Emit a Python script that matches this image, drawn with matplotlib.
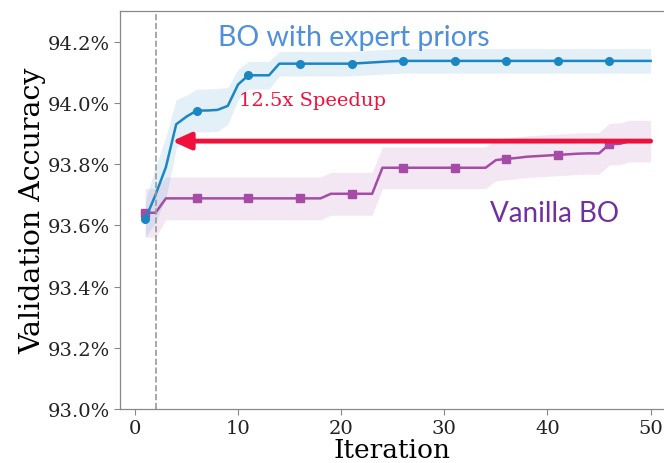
import numpy as np
import matplotlib.pyplot as plt
from matplotlib.ticker import FuncFormatter

# best-so-far validation accuracy (%) per iteration
iters = np.arange(1, 51)
expert_mean = [93.62, 93.70, 93.79, 93.93, 93.955, 93.975, 93.975, 93.977, 93.99, 94.06,
               94.09, 94.09, 94.09, 94.128, 94.128, 94.128, 94.128, 94.128, 94.128, 94.128,
               94.128, 94.13, 94.132, 94.134, 94.136, 94.137, 94.137, 94.137, 94.137, 94.137,
               94.137, 94.137, 94.137, 94.137, 94.137, 94.137, 94.137, 94.137, 94.137, 94.137,
               94.137, 94.137, 94.137, 94.137, 94.137, 94.137, 94.137, 94.137, 94.137, 94.137]
expert_std = [0.06, 0.09, 0.10, 0.08, 0.07, 0.07, 0.07, 0.07, 0.06, 0.05,
              0.045, 0.045, 0.045, 0.04, 0.04, 0.04, 0.04, 0.04, 0.04, 0.04,
              0.04, 0.04, 0.04, 0.04, 0.04, 0.04, 0.04, 0.04, 0.04, 0.04,
              0.04, 0.04, 0.04, 0.04, 0.04, 0.04, 0.04, 0.04, 0.04, 0.04,
              0.04, 0.04, 0.04, 0.04, 0.04, 0.04, 0.04, 0.04, 0.04, 0.04]
vanilla_mean = [93.641, 93.641, 93.688, 93.688, 93.688, 93.688, 93.688, 93.688, 93.688, 93.688,
                93.688, 93.688, 93.688, 93.688, 93.688, 93.688, 93.688, 93.688, 93.703, 93.703,
                93.703, 93.703, 93.703, 93.788, 93.788, 93.788, 93.788, 93.788, 93.788, 93.788,
                93.788, 93.788, 93.788, 93.788, 93.813, 93.817, 93.82, 93.824, 93.826, 93.828,
                93.83, 93.832, 93.834, 93.835, 93.835, 93.865, 93.866, 93.875, 93.875, 93.875]
vanilla_std = [0.08, 0.08, 0.07, 0.07, 0.07, 0.07, 0.07, 0.07, 0.07, 0.07,
               0.07, 0.07, 0.07, 0.07, 0.07, 0.07, 0.07, 0.07, 0.07, 0.07,
               0.07, 0.07, 0.07, 0.068, 0.068, 0.068, 0.068, 0.068, 0.068, 0.068,
               0.068, 0.068, 0.068, 0.068, 0.068, 0.068, 0.068, 0.068, 0.068, 0.068,
               0.068, 0.068, 0.068, 0.068, 0.068, 0.068, 0.068, 0.068, 0.068, 0.068]
marker_idx = list(range(0, 50, 5))

expert_mean = np.array(expert_mean)
expert_std = np.array(expert_std)
vanilla_mean = np.array(vanilla_mean)
vanilla_std = np.array(vanilla_std)

blue = '#1a86c4'
purple = '#a64ca6'
red = '#f0103c'

plt.rcParams['font.family'] = 'DejaVu Serif'
fig = plt.figure(figsize=(6.64, 4.64), dpi=100)
ax = fig.add_axes([120/664, 54/464, 544/664, 398/464])

ax.fill_between(iters, vanilla_mean - vanilla_std, vanilla_mean + vanilla_std,
                color=purple, alpha=0.13, lw=0)
ax.fill_between(iters, expert_mean - expert_std, expert_mean + expert_std,
                color=blue, alpha=0.12, lw=0)
ax.plot(iters, vanilla_mean, color=purple, lw=1.8, marker='s', ms=5.5, markevery=marker_idx)
ax.plot(iters, expert_mean, color=blue, lw=1.8, marker='o', ms=5.5, markevery=marker_idx)

ax.axvline(2, color='#999999', ls='--', lw=1.2)

# speedup arrow from the end of vanilla BO back to where expert priors reach it
ax.annotate('', xy=(3.6, vanilla_mean[-1]), xytext=(50, vanilla_mean[-1]),
            arrowprops=dict(arrowstyle='-|>,head_length=1.1,head_width=0.5',
                            color=red, lw=3.5, shrinkA=0, shrinkB=0))
ax.text(10.1, 94.01, '12.5x Speedup', color=red, fontsize=14, va='center')

ax.text(8.1, 94.215, 'BO with expert priors', color='#4f8fdc', fontsize=20.5,
        family='Lato', va='center')
ax.text(34.4, 93.64, 'Vanilla BO', color='#7030a0', fontsize=20,
        family='Lato', va='center')

ax.set_xlim(-1.45, 51.3)
ax.set_ylim(93.0, 94.30)
ax.set_xticks([0, 10, 20, 30, 40, 50])
ax.set_yticks([93.0, 93.2, 93.4, 93.6, 93.8, 94.0, 94.2])
ax.yaxis.set_major_formatter(FuncFormatter(lambda v, p: f'{v:.1f}%'))
ax.tick_params(labelsize=14, color='#888888', length=4, width=0.8, labelcolor='#222222')
ax.set_xlabel('Iteration', fontsize=19, labelpad=0)
ax.set_ylabel('Validation Accuracy', fontsize=20.5, labelpad=1)
for s in ['left', 'bottom', 'top']:
    ax.spines[s].set_color('#888888')
    ax.spines[s].set_linewidth(0.9)
ax.spines['right'].set_visible(False)

fig.savefig('out.png', dpi=100)
